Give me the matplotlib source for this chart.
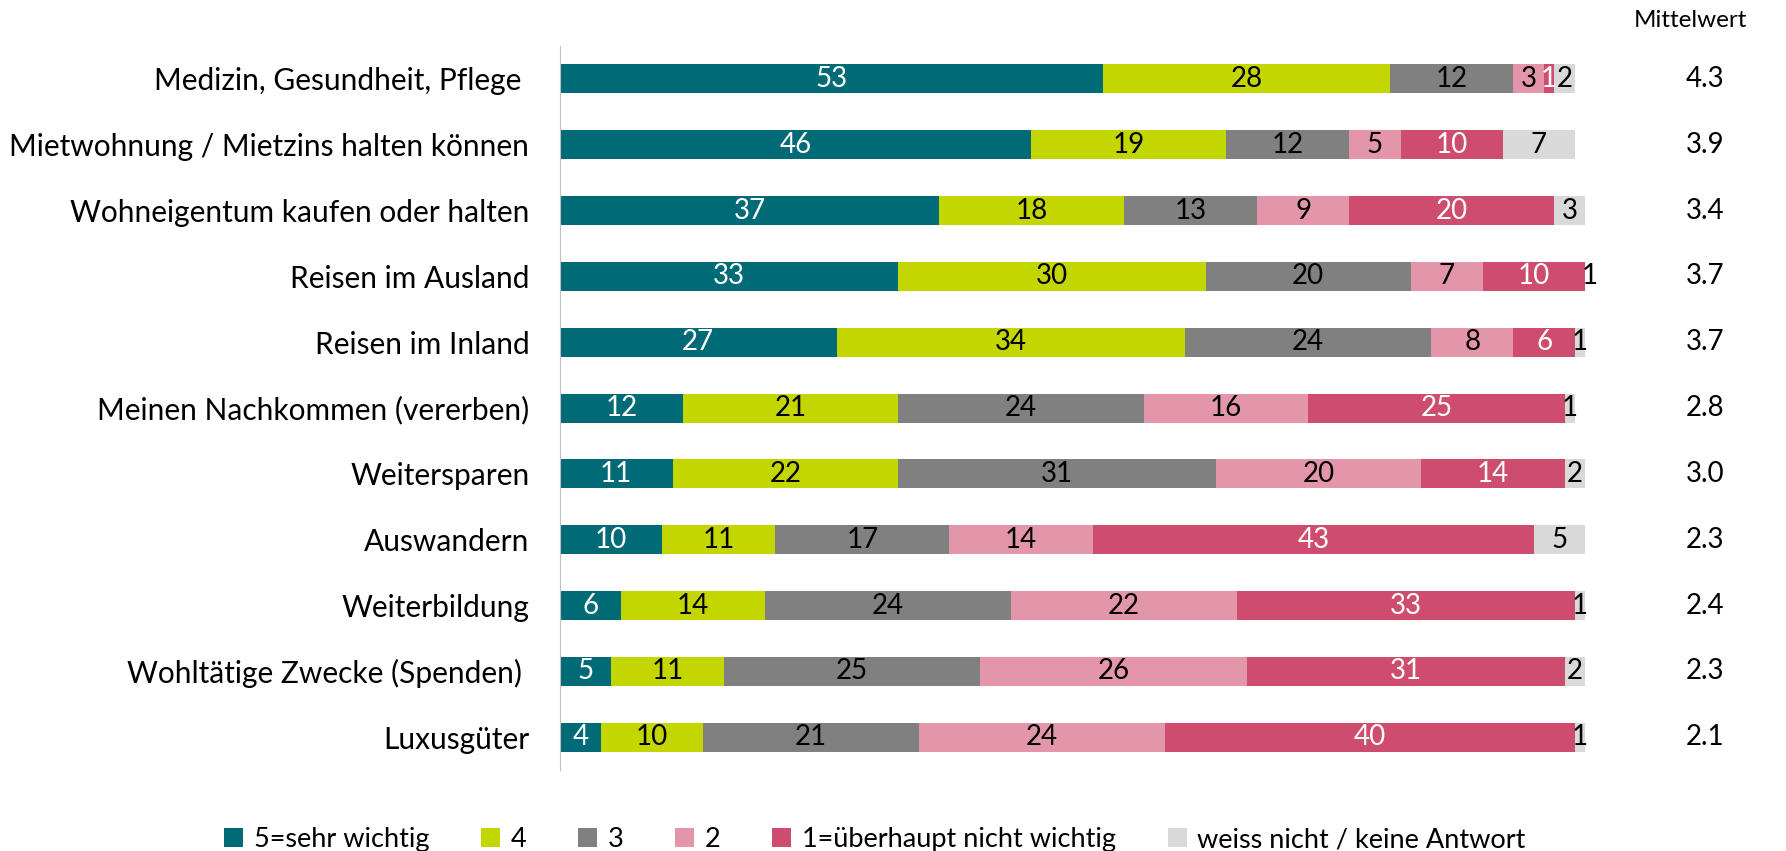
import numpy as np
import matplotlib
matplotlib.use("Agg")
import matplotlib.pyplot as plt

plt.rcParams['font.family'] = ['Lato', 'DejaVu Sans']

categories = ["Medizin, Gesundheit, Pflege ", "Mietwohnung / Mietzins halten können",
              "Wohneigentum kaufen oder halten", "Reisen im Ausland", "Reisen im Inland",
              "Meinen Nachkommen (vererben)", "Weitersparen", "Auswandern", "Weiterbildung",
              "Wohltätige Zwecke (Spenden) ", "Luxusgüter"]
series_names = ["5=sehr wichtig", "4", "3", "2", "1=überhaupt nicht wichtig",
                "weiss nicht / keine Antwort"]
s5 = [53, 46, 37, 33, 27, 12, 11, 10, 6, 5, 4]
s4 = [28, 19, 18, 30, 34, 21, 22, 11, 14, 11, 10]
s3 = [12, 12, 13, 20, 24, 24, 31, 17, 24, 25, 21]
s2 = [3, 5, 9, 7, 8, 16, 20, 14, 22, 26, 24]
s1 = [1, 10, 20, 10, 6, 25, 14, 43, 33, 31, 40]
wn = [2, 7, 3, 1, 1, 1, 2, 5, 1, 2, 1]
means = ["4.3", "3.9", "3.4", "3.7", "3.7", "2.8", "3.0", "2.3", "2.4", "2.3", "2.1"]

colors = ["#006B77", "#C4D600", "#808080", "#E396A9", "#CE4D6E", "#D9D9D9"]
text_colors = ["white", "black", "black", "black", "white", "black"]

fig = plt.figure(figsize=(17.86, 8.51), dpi=100)
ax = fig.add_axes([0.3135, 0.095, 0.574, 0.851])

y = np.arange(len(categories))
left = np.zeros(len(categories))
for vals, name, col, tc in zip([s5, s4, s3, s2, s1, wn], series_names, colors, text_colors):
    vals = np.array(vals, dtype=float)
    ax.barh(y, vals, left=left, height=0.44, color=col, label=name)
    for yi, l, v in zip(y, left, vals):
        ax.text(l + v / 2, yi, f"{int(v)}", ha="center", va="center",
                color=tc, fontsize=20)
    left += vals

for yi, m in zip(y, means):
    ax.text(111.7, yi, m, ha="center", va="center", fontsize=20, clip_on=False)
ax.text(110.3, -0.5 - 0.22, "Mittelwert", ha="center", va="bottom", fontsize=17.5, clip_on=False)

ax.set_xlim(0, 100)
ax.set_ylim(len(categories) - 0.5, -0.5)
ax.set_yticks(y)
ax.set_yticklabels(categories, fontsize=21.5)
ax.tick_params(axis="y", length=0, pad=22)
ax.set_xticks([])
for s in ["top", "right", "bottom"]:
    ax.spines[s].set_visible(False)
ax.spines["left"].set_color("#BFBFBF")

fig.legend(loc="lower center", bbox_to_anchor=(0.49, -0.03), ncol=6, frameon=False,
           fontsize=19.5, handlelength=0.7, handleheight=0.7, handletextpad=0.4,
           columnspacing=1.9)

fig.savefig("out.png", dpi=100)
